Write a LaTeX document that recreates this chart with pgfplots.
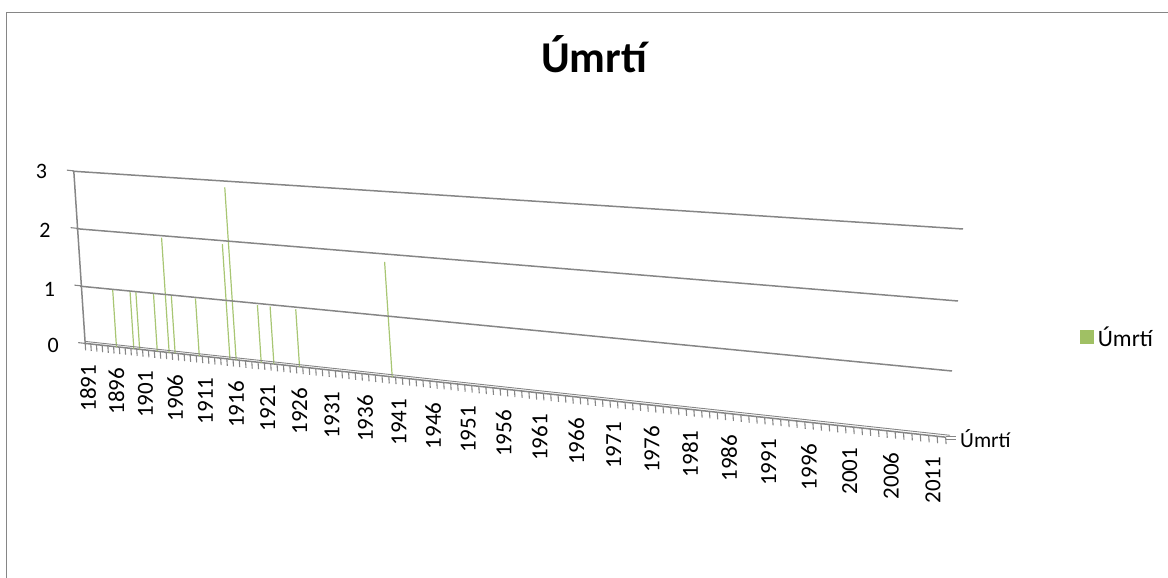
\documentclass[border=0pt]{standalone}
\usepackage{fontspec}
\setmainfont{Carlito}
\usepackage{pgfplots}
\pgfplotsset{compat=1.18}
\definecolor{spk}{RGB}{168,198,115}
\definecolor{leg}{RGB}{160,192,100}
\definecolor{ax}{RGB}{134,134,134}
\begin{document}
\begin{tikzpicture}
\begin{axis}[
  x={(1pt,-0.109pt)}, y={(-3.8pt,57.5pt)},
  x coord trafo/.code={\pgfmathparse{88+5.633*(#1-1891)+0.01174*(#1-1891)^2}},
  xmin=1890.5, xmax=2012.5, ymin=0, ymax=3,
  axis x line*=bottom, axis y line*=left,
  axis line style={ax, line width=1.5pt},
  tick align=outside, major tick length=7pt,
  tick style={ax, line width=1.1pt},
  xtick={1890.5,1891.5,...,2012.5}, xticklabels={},
  extra x ticks={1891,1896,1901,1906,1911,1916,1921,1926,1931,1936,1941,1946,1951,1956,1961,1966,1971,1976,1981,1986,1991,1996,2001,2006,2011},
  extra x tick labels={1891,1896,1901,1906,1911,1916,1921,1926,1931,1936,1941,1946,1951,1956,1961,1966,1971,1976,1981,1986,1991,1996,2001,2006,2011},
  extra x tick style={major tick length=0pt, grid=none,
     xticklabel style={yshift=-19pt, rotate=90, anchor=east, inner sep=2pt,
       font=\fontsize{23}{26}\selectfont, text=black}},
  ytick={0,1,2,3}, yticklabels={},
  unbounded coords=jump,
  /pgf/number format/assume math mode=true,
  legend image code/.code={\fill[leg] (0pt,-6.5pt) rectangle (13pt,6.5pt);},
  legend style={at={(axis cs:1891,0)}, anchor=west, xshift=992pt, yshift=6.7pt,
    draw=none, fill=none, inner sep=0pt,
    nodes={inner sep=3.5pt},
    font=\fontsize{23.5}{26}\selectfont},
]
\addplot[spk, line width=1.2pt, mark=none] coordinates {
 (1896,0) (1896,1) (1896,nan)
 (1899,0) (1899,1) (1899,nan)
 (1900,0) (1900,1) (1900,nan)
 (1903,0) (1903,1) (1903,nan)
 (1905,0) (1905,2) (1905,nan)
 (1906,0) (1906,1) (1906,nan)
 (1910,0) (1910,1) (1910,nan)
 (1915,0) (1915,2) (1915,nan)
 (1916,0) (1916,3) (1916,nan)
 (1920,0) (1920,1) (1920,nan)
 (1922,0) (1922,1) (1922,nan)
 (1926,0) (1926,1) (1926,nan)
 (1940,0) (1940,2)
};
\addlegendentry{Úmrtí}
\coordinate (O) at (axis cs:1891,0);
\end{axis}
\begin{scope}[shift={(O)}, x=1pt, y=-1pt, shift={(-88,-343.7)}]
\useasboundingbox (0,0) rectangle (1168,578);
\draw[ax, line width=1.5pt] (6.5,578) -- (6.5,12.5) -- (1168,12.5);
\draw[ax, line width=1.5pt] (72.6,171.2) -- (963,229);
\draw[ax, line width=1.5pt] (76.4,228.7) -- (958,301);
\draw[ax, line width=1.5pt] (80.2,286.2) -- (952,371);
\draw[ax, line width=0.9pt] (86,341.5) -- (950,435.3);
\begin{scope}[every node/.style={inner sep=0pt, font=\fontsize{22}{24}\selectfont}]
\node at (41.5,171.7) {3};
\node at (45,230.5) {2};
\node at (49.5,289) {1};
\node at (53.3,345) {0};
\end{scope}
\node[anchor=base, inner sep=0pt, font=\bfseries\fontsize{44}{50}\selectfont] at (594,73) {Úmrtí};
\draw[ax, line width=1pt] (946,436.5) -- (956,436.5);
\draw[ax, line width=1pt] (946,440) -- (956,440);
\node[anchor=base west, inner sep=0pt, font=\fontsize{21.5}{24}\selectfont] at (960,448) {Úmrtí};
\end{scope}
\end{tikzpicture}
\end{document}
